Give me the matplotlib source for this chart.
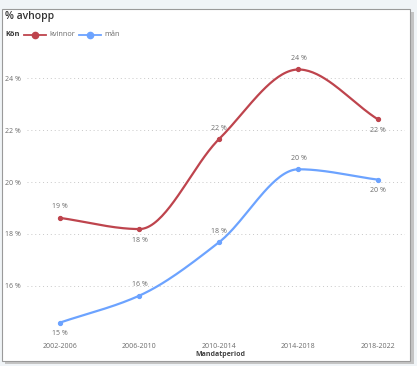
import numpy as np
import matplotlib
matplotlib.use("Agg")
import matplotlib.pyplot as plt
from matplotlib.patches import Rectangle
from matplotlib.lines import Line2D

categories = ["2002-2006", "2006-2010", "2010-2014", "2014-2018", "2018-2022"]
kvinnor = [18.62, 18.19, 21.65, 24.33, 22.41]
man = [14.59, 15.63, 17.68, 20.49, 20.09]
kv_label_pos = ["above", "below", "above", "above", "below"]
man_label_pos = ["below", "above", "above", "above", "below"]
yticks = [16, 18, 20, 22, 24]

RED = "#BE444D"
BLUE = "#6CA3FF"
TXT = "#6b6b6b"
FONT = "Open Sans"

W, H = 417, 366
fig = plt.figure(figsize=(W / 100, H / 100), dpi=100)
fig.patch.set_facecolor("#F0F4F7")

def fx(px):
    return px / W

def fy(py):
    return 1 - py / H

# shadow and card
fig.patches.append(Rectangle((fx(5), fy(364)), fx(409), 352 / H, transform=fig.transFigure,
                             facecolor="#C4C4C4", edgecolor="none", zorder=0))
fig.patches.append(Rectangle((fx(2), fy(361)), fx(408), 352 / H, transform=fig.transFigure,
                             facecolor="white", edgecolor="#9a9a9a", linewidth=0.8, zorder=1))

ax = fig.add_axes([fx(27), fy(333), 378 / W, 283 / H])
ax.set_facecolor("none")
ax.set_zorder(2)

def smooth(y):
    x = np.arange(len(y), dtype=float)
    y = np.asarray(y, dtype=float)
    h = np.diff(x)
    d = np.diff(y) / h
    n = len(y)
    m = np.zeros(n)
    for k in range(1, n - 1):
        if d[k - 1] * d[k] <= 0:
            m[k] = 0
        else:
            w1 = 2 * h[k] + h[k - 1]
            w2 = h[k] + 2 * h[k - 1]
            m[k] = (w1 + w2) / (w1 / d[k - 1] + w2 / d[k])
    m[0] = d[0]
    m[-1] = d[-1]
    xs, ys = [], []
    for k in range(n - 1):
        t = np.linspace(0, 1, 40)
        h00 = 2 * t**3 - 3 * t**2 + 1
        h10 = t**3 - 2 * t**2 + t
        h01 = -2 * t**3 + 3 * t**2
        h11 = t**3 - t**2
        yy = h00 * y[k] + h10 * h[k] * m[k] + h01 * y[k + 1] + h11 * h[k] * m[k + 1]
        xs.append(x[k] + t * h[k])
        ys.append(yy)
    return np.concatenate(xs), np.concatenate(ys)

xi = np.arange(len(categories))
for vals, col, pos in [(kvinnor, RED, kv_label_pos), (man, BLUE, man_label_pos)]:
    sx, sy = smooth(vals)
    ax.plot(sx, sy, color=col, lw=1.6, solid_capstyle="round", zorder=3)
    ax.plot(xi, vals, "o", color=col, ms=2.8, zorder=4)
    for x, v, p in zip(xi, vals, pos):
        off = 8 if p == "above" else -8
        ax.annotate(f"{round(v):.0f} %", (x, v), xytext=(0, off), textcoords="offset points",
                    ha="center", va="center", fontsize=5, color=TXT, family=FONT)

ax.set_xlim(-0.415, 4.34)
ax.set_ylim(14.19, 25.08)
ax.set_yticks(yticks)
ax.set_yticklabels([f"{t} %" for t in yticks], fontsize=5, color=TXT, family=FONT)
ax.set_xticks(xi)
ax.set_xticklabels(categories, fontsize=5, color=TXT, family=FONT)
ax.tick_params(length=0, pad=4.5)
ax.tick_params(axis="x", pad=7)
for s in ax.spines.values():
    s.set_visible(False)
ax.grid(axis="y", color="#c8c8c8", lw=0.7, linestyle=(0, (1, 3)))
ax.set_axisbelow(True)

fig.text(fx(220), fy(355), "Mandatperiod", ha="center", va="center", fontsize=5,
         color="#444444", family=FONT, fontweight="bold")

# title
fig.text(fx(5), fy(17), "% avhopp", ha="left", va="center", fontsize=7.5, color="#333333",
         family=FONT, fontweight="semibold")

# legend
ly = fy(35)
fig.text(fx(5), ly, "Kön", ha="left", va="center", fontsize=5.3, color="#333333",
         family=FONT, fontweight="bold")
fig.lines.append(Line2D([fx(24), fx(46)], [ly, ly], transform=fig.transFigure, color=RED, lw=1.3))
fig.lines.append(Line2D([fx(35)], [ly], transform=fig.transFigure, color=RED, marker="o", ms=4.5))
fig.text(fx(49), ly, "kvinnor", ha="left", va="center", fontsize=5.3, color=TXT, family=FONT)
fig.lines.append(Line2D([fx(79), fx(101)], [ly, ly], transform=fig.transFigure, color=BLUE, lw=1.3))
fig.lines.append(Line2D([fx(90)], [ly], transform=fig.transFigure, color=BLUE, marker="o", ms=4.5))
fig.text(fx(104), ly, "mån", ha="left", va="center", fontsize=5.3, color=TXT, family=FONT)

fig.savefig("out.png", dpi=100, facecolor=fig.get_facecolor())
